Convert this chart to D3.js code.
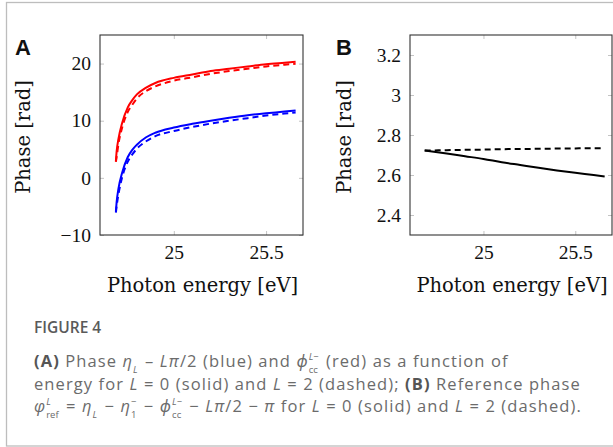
<!DOCTYPE html>
<html>
<head>
<meta charset="utf-8">
<script src="https://cdn.jsdelivr.net/npm/d3@7"></script>
<style>
  html, body { margin: 0; padding: 0; background: #fff; }
  svg { display: block; }
</style>
</head>
<body>
<svg id="fig" width="613" height="447"></svg>
<script>
// ---- Panel A: phases vs photon energy (eV) ----
const energyA = [24.686, 24.69, 24.70, 24.72, 24.75, 24.775, 24.80, 24.85, 24.90, 25.00, 25.10, 25.20, 25.30, 25.40, 25.50, 25.60, 25.66];
const etaL0   = [-5.9, -4.3, -1.9, 0.9, 3.6, 4.9, 5.8, 7.1, 7.9, 8.8, 9.45, 10.0, 10.5, 10.95, 11.3, 11.6, 11.8];
const etaL2   = [-6.1, -5.0, -2.9, 0.1, 2.8, 4.1, 5.1, 6.4, 7.3, 8.2, 8.9, 9.5, 10.0, 10.45, 10.9, 11.25, 11.45];
const phiccL0 = [2.9, 4.6, 6.8, 9.6, 12.3, 13.6, 14.6, 15.8, 16.6, 17.5, 18.1, 18.7, 19.1, 19.5, 19.9, 20.15, 20.3];
const phiccL2 = [2.8, 3.6, 5.9, 8.8, 11.5, 12.8, 13.9, 15.2, 16.0, 17.0, 17.6, 18.2, 18.7, 19.1, 19.5, 19.8, 19.95];

// ---- Panel B: reference phase ----
const energyB = [24.68, 24.80, 24.90, 25.00, 25.10, 25.20, 25.30, 25.40, 25.50, 25.60, 25.66];
const refL0   = [2.723, 2.708, 2.694, 2.680, 2.664, 2.650, 2.636, 2.623, 2.611, 2.600, 2.593];
const refL2   = [2.722, 2.724, 2.726, 2.727, 2.729, 2.730, 2.731, 2.732, 2.733, 2.734, 2.734];

const xTicks  = [25, 25.5];
const yTicksA = [-10, 0, 10, 20];
const yTicksB = [2.4, 2.6, 2.8, 3, 3.2];

const svg = d3.select("#fig");
const serif = "'Liberation Serif', 'DejaVu Serif', serif";
const titleSerif = "'DejaVu Serif', 'Liberation Serif', serif";
const sans = "'Open Sans', 'Noto Sans', sans-serif";

// card border
svg.append("rect")
  .attr("x", 6.5).attr("y", 2.5).attr("width", 640).attr("height", 443.5)
  .attr("fill", "none").attr("stroke", "#bdbdbd").attr("stroke-width", 1.3);

const fmt = d => (d < 0 ? "\u2212" + Math.abs(d) : String(d));

function panel(opts) {
  const { left, top, width, height, xDomain, yDomain, yTicks, label, labelX, yTitleX, series } = opts;
  const g = svg.append("g");
  const x = d3.scaleLinear().domain(xDomain).range([left, left + width]);
  const y = d3.scaleLinear().domain(yDomain).range([top + height, top]);

  const styleAxis = (sel, showText) => {
    sel.select(".domain").remove();
    sel.selectAll(".tick line").attr("stroke", "#c4c4c4").attr("stroke-width", 1);
    sel.selectAll(".tick text")
      .attr("fill", "#111")
      .style("font-family", serif)
      .style("font-size", "19.5px")
      .style("display", showText ? null : "none");
  };

  g.append("g").attr("transform", `translate(0,${top + height})`)
    .call(d3.axisBottom(x).tickValues(xTicks).tickSizeInner(-4).tickSizeOuter(0).tickPadding(10).tickFormat(fmt))
    .call(s => styleAxis(s, true));
  g.append("g").attr("transform", `translate(0,${top})`)
    .call(d3.axisTop(x).tickValues(xTicks).tickSizeInner(-4).tickSizeOuter(0).tickFormat(""))
    .call(s => styleAxis(s, false));
  g.append("g").attr("transform", `translate(${left},0)`)
    .call(d3.axisLeft(y).tickValues(yTicks).tickSizeInner(-4).tickSizeOuter(0).tickPadding(9).tickFormat(fmt))
    .call(s => styleAxis(s, true));
  g.append("g").attr("transform", `translate(${left + width},0)`)
    .call(d3.axisRight(y).tickValues(yTicks).tickSizeInner(-4).tickSizeOuter(0).tickFormat(""))
    .call(s => styleAxis(s, false));

  const clipId = "clip" + label;
  svg.append("clipPath").attr("id", clipId)
    .append("rect").attr("x", left).attr("y", top).attr("width", width).attr("height", height);

  const line = d3.line().x(d => x(d[0])).y(d => y(d[1])).curve(d3.curveMonotoneX);
  const plot = g.append("g").attr("clip-path", `url(#${clipId})`);
  series.forEach(s => {
    plot.append("path")
      .datum(s.xs.map((v, i) => [v, s.ys[i]]))
      .attr("d", line)
      .attr("fill", "none")
      .attr("stroke", s.color)
      .attr("stroke-width", 2)
      .attr("stroke-dasharray", s.dashed ? "6,4" : null)
      .attr("stroke-linecap", "butt")
      .attr("stroke-linejoin", "round");
  });

  // frame
  g.append("rect")
    .attr("x", left).attr("y", top).attr("width", width).attr("height", height)
    .attr("fill", "none").attr("stroke", "#333").attr("stroke-width", 1.1);

  // axis titles
  g.append("text")
    .attr("x", left + width / 2 + 1).attr("y", top + height + 57)
    .attr("text-anchor", "middle")
    .style("font-family", titleSerif).style("font-size", "19.5px").style("font-weight", 300)
    .attr("fill", "#111")
    .text("Photon energy [eV]");
  g.append("text")
    .attr("transform", `translate(${yTitleX},${top + height / 2 + 2}) rotate(-90)`)
    .attr("text-anchor", "middle")
    .style("font-family", titleSerif).style("font-size", "19.5px").style("font-weight", 300)
    .attr("fill", "#111")
    .text("Phase [rad]");

  // panel letter
  g.append("text")
    .attr("x", labelX).attr("y", top + 20)
    .style("font-family", "'Liberation Sans', Arial, sans-serif")
    .style("font-size", "22px").style("font-weight", "bold").attr("fill", "#111")
    .text(label);
}

panel({
  left: 100, top: 35, width: 203, height: 200,
  xDomain: [24.6, 25.7], yDomain: [-10, 25], yTicks: yTicksA,
  label: "A", labelX: 15, yTitleX: 30,
  series: [
    { xs: energyA, ys: phiccL0, color: "#ff0000", dashed: false },
    { xs: energyA, ys: phiccL2, color: "#ff0000", dashed: true },
    { xs: energyA, ys: etaL0, color: "#0000ff", dashed: false },
    { xs: energyA, ys: etaL2, color: "#0000ff", dashed: true }
  ]
});

panel({
  left: 410, top: 35, width: 202, height: 200,
  xDomain: [24.6, 25.7], yDomain: [2.3, 3.3], yTicks: yTicksB,
  label: "B", labelX: 336, yTitleX: 351,
  series: [
    { xs: energyB, ys: refL0, color: "#000", dashed: false },
    { xs: energyB, ys: refL2, color: "#000", dashed: true }
  ]
});

// ---- caption ----
const cap = svg.append("g").attr("fill", "#6b6b6b").style("font-family", sans);
cap.append("text")
  .attr("x", 34).attr("y", 333)
  .style("font-size", "15.5px").style("font-weight", 600).attr("fill", "#5a5a5a")
  .text("FIGURE 4");

// lays out a line of mixed text, italics and stacked scripts
function richLine(x0, y0, parts) {
  let x = x0;
  const size = 16.5, small = 9.5, spacing = 1.1;
  parts.forEach(p => {
    if (p.sup !== undefined || p.sub !== undefined) {
      let w = 0;
      if (p.sup) {
        const t = cap.append("text").attr("x", x).attr("y", y0 - 7.5)
          .style("font-size", small + "px").style("font-style", p.supI ? "italic" : "normal").text(p.sup);
        w = Math.max(w, t.node().getComputedTextLength());
      }
      if (p.sub) {
        const t = cap.append("text").attr("x", x).attr("y", y0 + 5.5)
          .style("font-size", small + "px").style("font-style", p.subI ? "italic" : "normal").text(p.sub);
        w = Math.max(w, t.node().getComputedTextLength());
      }
      x += w + 2;
    } else {
      const t = cap.append("text").attr("x", x).attr("y", y0)
        .style("font-size", size + "px")
        .style("letter-spacing", spacing + "px")
        .style("font-style", p.i ? "italic" : "normal")
        .style("font-weight", p.b ? 700 : 400)
        .attr("fill", p.b ? "#555" : null)
        .attr("xml:space", "preserve")
        .style("white-space", "pre")
        .text(p.t);
      x += t.node().getComputedTextLength();
    }
  });
}

richLine(34, 367, [
  { t: "(A)", b: true }, { t: " Phase " }, { t: "\u03B7", i: true }, { sub: "L", subI: true },
  { t: " \u2013 " }, { t: "L\u03C0", i: true }, { t: "/2 (blue) and " },
  { t: "\u03D5", i: true }, { sup: "L\u2212", supI: true, sub: "cc" },
  { t: " (red) as a function of" }
]);
richLine(34, 390, [
  { t: "energy for " }, { t: "L", i: true }, { t: " = 0 (solid) and " }, { t: "L", i: true },
  { t: " = 2 (dashed); " }, { t: "(B)", b: true }, { t: " Reference phase" }
]);
richLine(34, 412, [
  { t: "\u03C6", i: true }, { sup: "L", supI: true, sub: "ref" }, { t: " = " },
  { t: "\u03B7", i: true }, { sub: "L", subI: true }, { t: " \u2212 " },
  { t: "\u03B7", i: true }, { sup: "\u2212", sub: "1" }, { t: " \u2212 " },
  { t: "\u03D5", i: true }, { sup: "L\u2212", supI: true, sub: "cc" }, { t: " \u2212 " },
  { t: "L\u03C0", i: true }, { t: "/2 \u2212 " }, { t: "\u03C0", i: true },
  { t: " for " }, { t: "L", i: true }, { t: " = 0 (solid) and " }, { t: "L", i: true },
  { t: " = 2 (dashed)." }
]);
</script>
</body>
</html>
